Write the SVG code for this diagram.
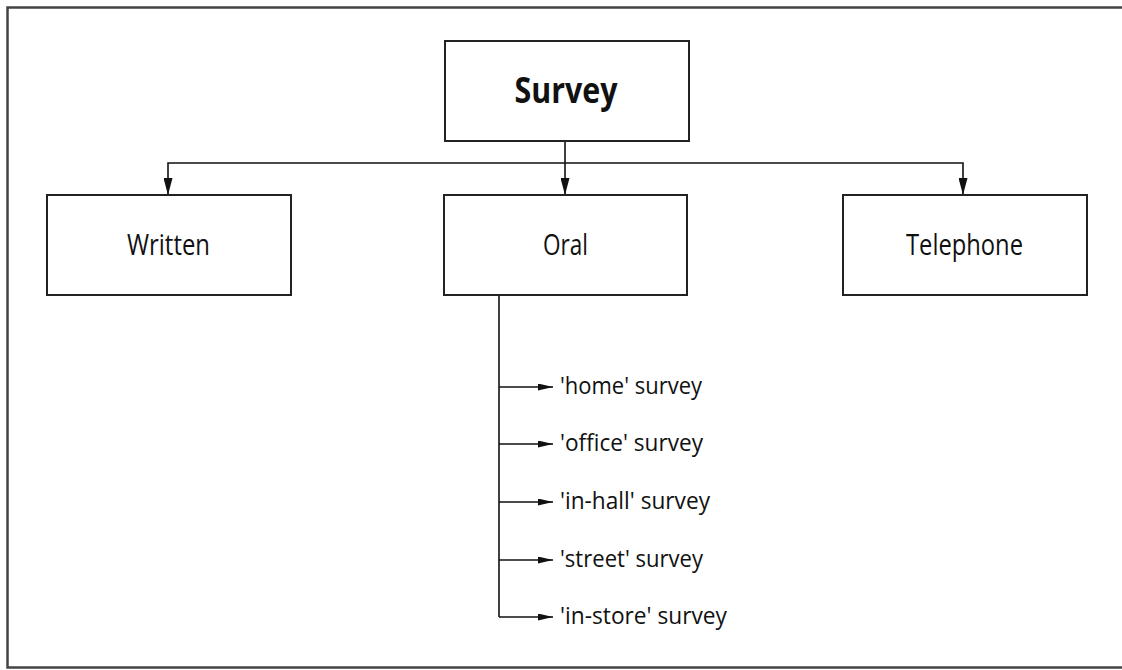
<svg xmlns="http://www.w3.org/2000/svg" width="1122" height="670" viewBox="0 0 1122 670">
  <style>
    .frame { fill: none; stroke: #444; stroke-width: 2.5; }
    .box { fill: #fff; stroke: #222; stroke-width: 2; }
    .wire { fill: none; stroke: #111; stroke-width: 1.6; }
    .label { font-family: "Open Sans", "Noto Sans", sans-serif; font-size: 29px; fill: #111; text-anchor: middle; }
    .title { font-family: "Open Sans", "Noto Sans", sans-serif; font-size: 35px; font-weight: bold; fill: #111; text-anchor: middle; }
    .item { font-family: "Open Sans", "Noto Sans", sans-serif; font-size: 23px; fill: #111; }
  </style>
  <defs>
    <marker id="arrowDown" markerUnits="userSpaceOnUse" markerWidth="10" markerHeight="18" refX="5" refY="17" orient="auto-start-reverse" viewBox="0 0 10 18">
      <path d="M0,0 L10,0 L5,17 Z" fill="#111" transform="translate(0,0)"/>
    </marker>
    <marker id="arrowSmall" markerUnits="userSpaceOnUse" markerWidth="15" markerHeight="7" refX="15" refY="3.5" orient="auto" viewBox="0 0 15 7">
      <path d="M0,0 L15,3.5 L0,7 Z" fill="#111"/>
    </marker>
    <marker id="arrowMain" markerUnits="userSpaceOnUse" markerWidth="17" markerHeight="9" refX="17" refY="4.5" orient="auto" viewBox="0 0 17 9">
      <path d="M0,0 L17,4.5 L0,9 Z" fill="#111"/>
    </marker>
  </defs>

  <rect class="frame" x="7.5" y="7.5" width="1122" height="660"/>

  <g id="connectors">
    <!-- top tier -->
    <line class="wire" x1="565" y1="141" x2="565" y2="195" marker-end="url(#arrowMain)"/>
    <polyline class="wire" points="565,163 168,163 168,195" marker-end="url(#arrowMain)"/>
    <polyline class="wire" points="565,163 963,163 963,195" marker-end="url(#arrowMain)"/>
    <!-- oral branches -->
    <line class="wire" x1="499" y1="295" x2="499" y2="617"/>
    <line class="wire" x1="499" y1="387" x2="553" y2="387" marker-end="url(#arrowSmall)"/>
    <line class="wire" x1="499" y1="444" x2="553" y2="444" marker-end="url(#arrowSmall)"/>
    <line class="wire" x1="499" y1="502" x2="553" y2="502" marker-end="url(#arrowSmall)"/>
    <line class="wire" x1="499" y1="560" x2="553" y2="560" marker-end="url(#arrowSmall)"/>
    <line class="wire" x1="499" y1="617" x2="553" y2="617" marker-end="url(#arrowSmall)"/>
  </g>

  <g id="survey">
    <rect class="box" x="445" y="41" width="244" height="100"/>
    <text class="title" x="566" y="103" textLength="103" lengthAdjust="spacingAndGlyphs">Survey</text>
  </g>

  <g id="written">
    <rect class="box" x="47" y="195" width="244" height="100"/>
    <text class="label" x="168.5" y="255" textLength="83" lengthAdjust="spacingAndGlyphs">Written</text>
  </g>

  <g id="oral">
    <rect class="box" x="444" y="195" width="243" height="100"/>
    <text class="label" x="565.5" y="255" textLength="45" lengthAdjust="spacingAndGlyphs">Oral</text>
  </g>

  <g id="telephone">
    <rect class="box" x="843" y="195" width="244" height="100"/>
    <text class="label" x="964.5" y="255" textLength="117" lengthAdjust="spacingAndGlyphs">Telephone</text>
  </g>

  <g id="oral-types">
    <text class="item" x="560" y="394" textLength="142" lengthAdjust="spacingAndGlyphs">'home' survey</text>
    <text class="item" x="560" y="451" textLength="143" lengthAdjust="spacingAndGlyphs">'office' survey</text>
    <text class="item" x="560" y="509" textLength="150" lengthAdjust="spacingAndGlyphs">'in-hall' survey</text>
    <text class="item" x="560" y="567" textLength="143" lengthAdjust="spacingAndGlyphs">'street' survey</text>
    <text class="item" x="560" y="624" textLength="167" lengthAdjust="spacingAndGlyphs">'in-store' survey</text>
  </g>
</svg>
